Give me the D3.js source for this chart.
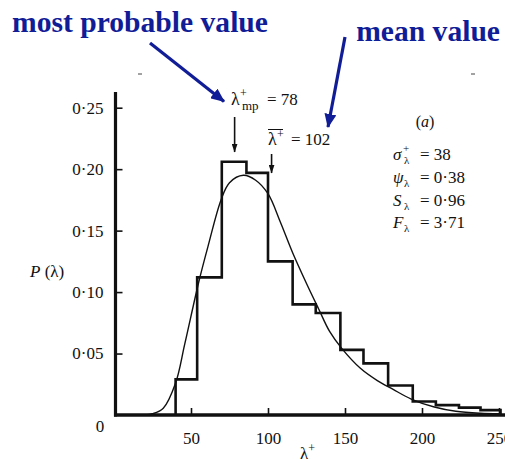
<!DOCTYPE html>
<html>
<head>
<meta charset="utf-8">
<script src="https://cdn.jsdelivr.net/npm/d3@7"></script>
<style>
  html, body { margin: 0; padding: 0; background: #fff; }
  svg { display: block; }
  text { font-family: "Liberation Serif", "Times New Roman", serif; fill: #111; }
</style>
</head>
<body>
<svg id="chart" width="505" height="463"></svg>
<script>
// Histogram of λ+ : bin edges and the probability in each bin
const binEdges = [40, 54, 70, 86, 100, 116, 131, 147, 162, 178, 194, 209, 224, 238, 251];
const binProb  = [0.029, 0.112, 0.206, 0.197, 0.125, 0.090, 0.083, 0.053, 0.042, 0.024, 0.011, 0.008, 0.006, 0.004];

// Fitted distribution P(λ)
const curveLambda = [20, 25, 32, 40, 46, 55, 61, 69.5, 75, 84, 92, 100, 108, 116, 125, 133, 140, 148, 160, 171, 181, 193, 208, 222, 238, 250];
const curveP      = [0, 0.001, 0.0055, 0.026, 0.058, 0.108, 0.137, 0.175, 0.189, 0.195, 0.191, 0.180, 0.157, 0.132, 0.107, 0.086, 0.068, 0.054, 0.038, 0.028, 0.021, 0.013, 0.0065, 0.003, 0.0014, 0.001];

// Axis ticks
const xTicks = [50, 100, 150, 200, 250];
const yTicks = [0.05, 0.10, 0.15, 0.20, 0.25];

// Marked values
const lambdaMP = 78;
const lambdaMean = 102;

// Summary statistics
const statSymbols = ["σ", "ψ", "S", "F"];
const statSups    = ["+", "", "", ""];
const statValues  = ["38", "0·38", "0·96", "3·71"];

const svg = d3.select("#chart");
const blue = "#111d96";

const x = d3.scaleLinear().domain([0, 250]).range([114, 499]);
const y = d3.scaleLinear().domain([0, 0.25]).range([415, 107.7]);

const decimal = d => d3.format(".2f")(d).replace(".", "·");

// Arrow heads
const defs = svg.append("defs");
defs.append("marker")
  .attr("id", "headBlue").attr("markerUnits", "userSpaceOnUse")
  .attr("viewBox", "0 0 14 12").attr("markerWidth", 14).attr("markerHeight", 12)
  .attr("refX", 13).attr("refY", 6).attr("orient", "auto")
  .append("path").attr("d", "M0,0 L14,6 L0,12 Z").attr("fill", blue);
defs.append("marker")
  .attr("id", "headBlack").attr("markerUnits", "userSpaceOnUse")
  .attr("viewBox", "0 0 9 6").attr("markerWidth", 9).attr("markerHeight", 6)
  .attr("refX", 8.5).attr("refY", 3).attr("orient", "auto")
  .append("path").attr("d", "M0,0 L9,3 L0,6 Z").attr("fill", "#111");

// Histogram outline (step path)
let d = `M${x(binEdges[0])},${y(0)}`;
binProb.forEach((p, i) => {
  d += ` V${y(p)} H${x(binEdges[i + 1])}`;
});
d += ` V${y(0)}`;
svg.append("path")
  .attr("d", d)
  .attr("fill", "none")
  .attr("stroke", "#111")
  .attr("stroke-width", 2.6)
  .attr("stroke-linejoin", "miter");

// Fitted curve
const curvePts = curveLambda.map((l, i) => [l, curveP[i]]);
svg.append("path")
  .datum(curvePts)
  .attr("d", d3.line().x(p => x(p[0])).y(p => y(p[1])).curve(d3.curveCatmullRom))
  .attr("fill", "none")
  .attr("stroke", "#111")
  .attr("stroke-width", 1.4);

// Y axis
const yAxis = d3.axisLeft(y)
  .tickValues(yTicks)
  .tickFormat(decimal)
  .tickSizeInner(-7)
  .tickSizeOuter(0)
  .tickPadding(12);
const gy = svg.append("g").attr("transform", "translate(115.5,0)").call(yAxis);
gy.select(".domain").remove();
gy.selectAll(".tick line").attr("stroke", "#111").attr("stroke-width", 1.6);
gy.selectAll(".tick text")
  .attr("font-family", "Liberation Serif, serif")
  .attr("font-size", 17).attr("fill", "#111");

// X axis
const xAxis = d3.axisBottom(x)
  .tickValues(xTicks)
  .tickFormat(d3.format("d"))
  .tickSizeInner(-7)
  .tickSizeOuter(0)
  .tickPadding(17);
const gx = svg.append("g").attr("transform", `translate(0,${y(0)})`).call(xAxis);
gx.select(".domain").remove();
gx.selectAll(".tick line").attr("stroke", "#111").attr("stroke-width", 1.6);
gx.selectAll(".tick text")
  .attr("font-family", "Liberation Serif, serif")
  .attr("font-size", 17).attr("fill", "#111");

// Heavy axis lines
svg.append("line")
  .attr("x1", 115.5).attr("x2", 115.5).attr("y1", 92).attr("y2", y(0) + 1.5)
  .attr("stroke", "#111").attr("stroke-width", 3.2);
svg.append("line")
  .attr("x1", 114).attr("x2", 505).attr("y1", y(0)).attr("y2", y(0))
  .attr("stroke", "#111").attr("stroke-width", 3.6);

// Origin label
svg.append("text").attr("x", 100).attr("y", 432).attr("text-anchor", "middle")
  .attr("font-size", 17).text("0");

// Axis titles
const xt = svg.append("text").attr("x", 300).attr("y", 459).attr("font-size", 17);
xt.append("tspan").text("λ");
xt.append("tspan").attr("font-size", 12).attr("dy", -7).text("+");

const yt = svg.append("text").attr("x", 30).attr("y", 277).attr("font-size", 17);
yt.append("tspan").attr("font-style", "italic").text("P");
yt.append("tspan").text(" (λ)");

// Small marks along the top of the frame
[[138, 142], [471, 475]].forEach(([a, b]) => {
  svg.append("line").attr("x1", a).attr("x2", b).attr("y1", 74).attr("y2", 74)
    .attr("stroke", "#444").attr("stroke-width", 1);
});

// Most probable value label and marker
const mp = svg.append("text").attr("x", 231).attr("y", 105).attr("font-size", 18);
mp.append("tspan").text("λ");
mp.append("tspan").attr("x", 240).attr("y", 96.5).attr("font-size", 12).text("+");
mp.append("tspan").attr("x", 242).attr("y", 110).attr("font-size", 13).text("mp");
mp.append("tspan").attr("x", 267).attr("y", 105).attr("font-size", 17).text("= " + lambdaMP);
svg.append("line")
  .attr("x1", x(lambdaMP) + 0.5).attr("x2", x(lambdaMP) + 0.5)
  .attr("y1", 117).attr("y2", 152)
  .attr("stroke", "#111").attr("stroke-width", 1.6)
  .attr("marker-end", "url(#headBlack)");

// Mean value label and marker
const mn = svg.append("text").attr("x", 268).attr("y", 145).attr("font-size", 18);
mn.append("tspan").text("λ");
mn.append("tspan").attr("x", 277).attr("y", 138).attr("font-size", 12).text("+");
mn.append("tspan").attr("x", 291).attr("y", 145).attr("font-size", 17).text("= " + lambdaMean);
svg.append("line").attr("x1", 268).attr("x2", 283).attr("y1", 129.5).attr("y2", 129.5)
  .attr("stroke", "#111").attr("stroke-width", 1);
svg.append("line")
  .attr("x1", x(lambdaMean) + 0.5).attr("x2", x(lambdaMean) + 0.5)
  .attr("y1", 154).attr("y2", 173)
  .attr("stroke", "#111").attr("stroke-width", 1.6)
  .attr("marker-end", "url(#headBlack)");

// Panel letter and statistics
const pa = svg.append("text").attr("x", 425).attr("y", 127).attr("text-anchor", "middle").attr("font-size", 16);
pa.append("tspan").text("(");
pa.append("tspan").attr("font-style", "italic").text("a");
pa.append("tspan").text(")");

const statBase = [160, 183, 205.5, 228];
statSymbols.forEach((s, i) => {
  const t = svg.append("text").attr("x", 393).attr("y", statBase[i]).attr("font-size", 17);
  t.append("tspan").attr("font-style", "italic").text(s);
  if (statSups[i]) {
    t.append("tspan").attr("x", 403).attr("y", statBase[i] - 8).attr("font-size", 11).text(statSups[i]);
  }
  t.append("tspan").attr("x", 404).attr("y", statBase[i] + 4).attr("font-size", 11).text("λ");
  t.append("tspan").attr("x", 420).attr("y", statBase[i]).attr("font-size", 17)
    .text("= " + statValues[i]);
});

// Headline annotations
svg.append("text").attr("x", 12).attr("y", 32).attr("font-size", 29.6)
  .attr("font-weight", "bold").style("fill", blue)
  .text("most probable value");
svg.append("text").attr("x", 500).attr("y", 41).attr("text-anchor", "end").attr("font-size", 29.6)
  .attr("font-weight", "bold").style("fill", blue)
  .text("mean value");

svg.append("line").attr("x1", 150).attr("y1", 43).attr("x2", 224).attr("y2", 101.5)
  .attr("stroke", blue).attr("stroke-width", 3.2).attr("marker-end", "url(#headBlue)");
svg.append("line").attr("x1", 345).attr("y1", 37).attr("x2", 328).attr("y2", 127)
  .attr("stroke", blue).attr("stroke-width", 3.2).attr("marker-end", "url(#headBlue)");
</script>
</body>
</html>
